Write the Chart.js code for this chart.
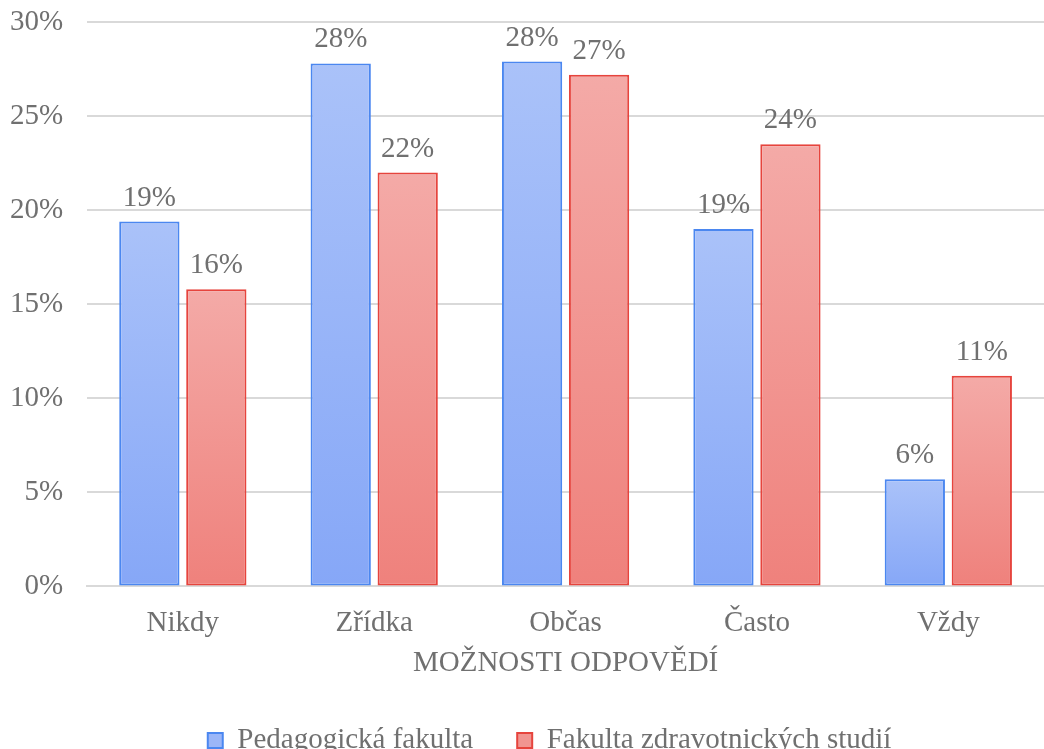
<!DOCTYPE html>
<html>
<head>
<meta charset="utf-8">
<script src="https://cdn.jsdelivr.net/npm/chart.js@4/dist/chart.umd.min.js"></script>
<style>
    html, body { margin: 0; padding: 0; background: #fff; }
    #wrap { width: 1044px; height: 749px; }
</style>
</head>
<body>
<div id="wrap"><canvas id="chart"></canvas></div>
<script>
// Chart data
const categories = ['Nikdy', 'Zřídka', 'Občas', 'Často', 'Vždy'];
const pedagogicka = [19.4, 27.8, 27.9, 19.0, 5.7];
const zdravotnicka = [15.8, 22.0, 27.2, 23.5, 11.2];
const seriesNames = ['Pedagogická fakulta', 'Fakulta zdravotnických studií'];
const axisTitle = 'MOŽNOSTI ODPOVĚDÍ';

const textColor = '#707070';
const fontFamily = '"Liberation Serif", "Times New Roman", serif';
const fontSize = 29;

// Gradient per bar, light at top, darker at base
const barGradient = (top, bottom, fallback) => (context) => {
    const chart = context.chart;
    if (!chart.chartArea || context.raw === undefined) return fallback;
    const yScale = chart.scales.y;
    const y1 = yScale.getPixelForValue(context.raw);
    const y0 = yScale.getPixelForValue(0);
    const g = chart.ctx.createLinearGradient(0, y1, 0, y0);
    g.addColorStop(0, top);
    g.addColorStop(1, bottom);
    return g;
};

// Value labels above bars
const valueLabels = {
    id: 'valueLabels',
    afterLayout(chart) {
        // nudge legend a bit left, like the original
        if (chart.legend) {
            chart.legend.left -= 16;
            chart.legend.right -= 16;
        }
    },
    afterDatasetsDraw(chart) {
        const c = chart.ctx;
        c.save();
        c.font = fontSize + 'px ' + fontFamily;
        c.fillStyle = textColor;
        c.textAlign = 'center';
        c.textBaseline = 'bottom';
        chart.data.datasets.forEach((ds, i) => {
            chart.getDatasetMeta(i).data.forEach((bar, j) => {
                c.fillText(Math.round(ds.data[j]) + '%', bar.x, bar.y - 9);
            });
        });
        c.restore();
    }
};

new Chart(document.getElementById('chart'), {
    type: 'bar',
    data: {
        labels: categories,
        datasets: [{
            label: seriesNames[0],
            data: pedagogicka,
            backgroundColor: barGradient('#aac2f9', '#86a7f7', '#9bb6f8'),
            borderColor: '#4b87f0',
            borderWidth: 2,
            borderSkipped: false
        }, {
            label: seriesNames[1],
            data: zdravotnicka,
            backgroundColor: barGradient('#f4aaa7', '#ef817c', '#f19591'),
            borderColor: '#e6443d',
            borderWidth: 2,
            borderSkipped: false
        }]
    },
    options: {
        responsive: true,
        maintainAspectRatio: false,
        animation: false,
        categoryPercentage: 0.7,
        barPercentage: 0.9,
        layout: { padding: { top: 0, right: 0, left: -14, bottom: -16 } },
        plugins: {
            legend: {
                position: 'bottom',
                fullSize: false,
                labels: {
                    color: textColor,
                    font: { family: fontFamily, size: fontSize },
                    boxWidth: 15,
                    boxHeight: 15,
                    padding: 44,
                    generateLabels: (chart) => chart.data.datasets.map((ds, i) => ({
                        text: ds.label,
                        fillStyle: i === 0 ? '#9bb6f8' : '#f19591',
                        strokeStyle: ds.borderColor,
                        lineWidth: 2,
                        datasetIndex: i,
                        fontColor: textColor
                    }))
                }
            },
            tooltip: { enabled: false }
        },
        scales: {
            x: {
                grid: { display: false, drawTicks: false },
                border: { color: '#d9d9d9', width: 2 },
                ticks: {
                    color: textColor,
                    font: { family: fontFamily, size: fontSize },
                    padding: 20
                },
                title: {
                    display: true,
                    text: axisTitle,
                    color: textColor,
                    font: { family: fontFamily, size: fontSize },
                    padding: { top: -15, bottom: 1 }
                }
            },
            y: {
                min: 0,
                max: 30,
                grid: { color: '#d9d9d9', lineWidth: 2, drawTicks: false },
                border: { display: false },
                ticks: {
                    stepSize: 5,
                    color: textColor,
                    font: { family: fontFamily, size: fontSize },
                    padding: 24,
                    callback: (v) => v + '%'
                },
                // tick padding also pads top/bottom, keep only the label half height
                afterFit: (scale) => {
                    scale.paddingTop = 22;
                    scale.paddingBottom = 18;
                }
            }
        }
    },
    plugins: [valueLabels]
});
</script>
</body>
</html>
